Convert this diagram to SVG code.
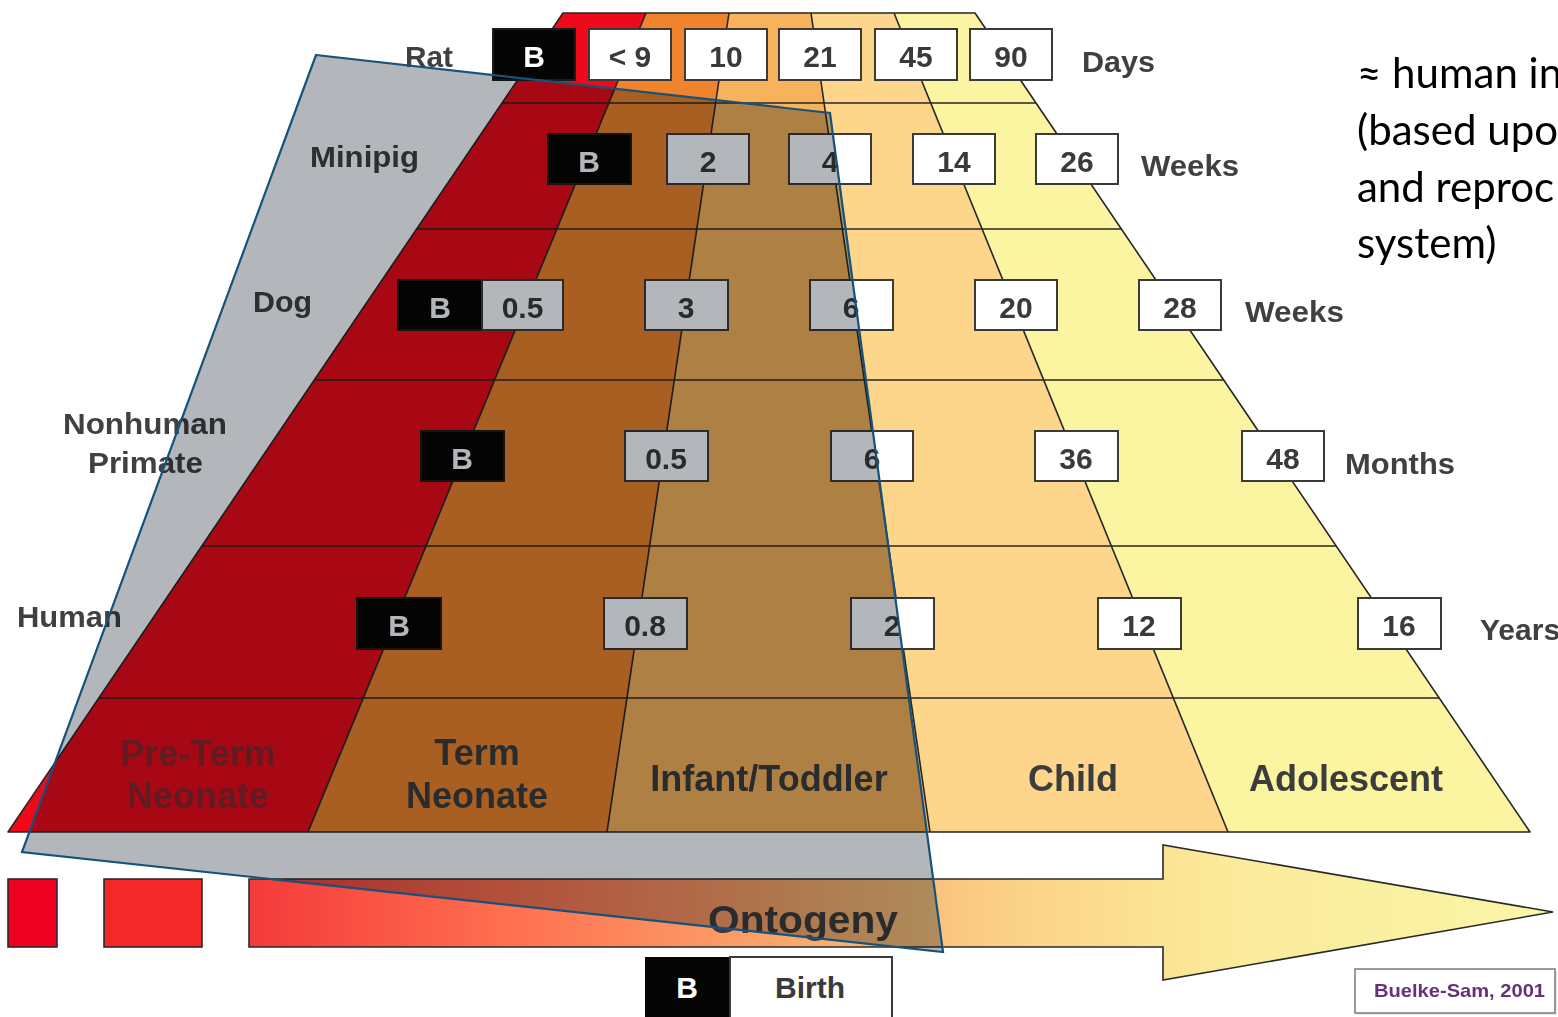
<svg xmlns="http://www.w3.org/2000/svg" width="1558" height="1017" viewBox="0 0 1558 1017">
  <defs>
    <style>
      .grid { fill: none; stroke: #262626; stroke-width: 1.6; stroke-linejoin: round; }
      .box { fill: #ffffff; stroke: #3a3a3a; stroke-width: 2; }
      .bbox { fill: #050505; stroke: #1c1c1c; stroke-width: 2; }
      .num { font-family: "Liberation Sans", Arial, sans-serif; font-weight: bold; font-size: 30px; fill: #3a3a3a; text-anchor: middle; }
      .bt { font-family: "Liberation Sans", Arial, sans-serif; font-weight: bold; font-size: 30px; fill: #ffffff; text-anchor: middle; }
      .lbl { font-family: "Liberation Sans", Arial, sans-serif; font-weight: bold; font-size: 30px; fill: #404040; }
      .stage { font-family: "Liberation Sans", Arial, sans-serif; font-weight: bold; font-size: 36px; fill: #3c3c3c; text-anchor: middle; }
      .faint { opacity: 0.55; }
      .note { font-family: "Lato", "Open Sans", sans-serif; font-size: 42px; fill: #000000; }
      .outline { fill: none; stroke: #2a2a2a; stroke-width: 1.6; }
    </style>
    <linearGradient id="ontoGrad" gradientUnits="userSpaceOnUse" x1="249" y1="0" x2="1553" y2="0">
      <stop offset="0" stop-color="#F43A3A"/>
      <stop offset="0.2" stop-color="#FF7050"/>
      <stop offset="0.45" stop-color="#F9B070"/>
      <stop offset="0.6" stop-color="#FBD48A"/>
      <stop offset="0.75" stop-color="#FBEA9A"/>
      <stop offset="1" stop-color="#FAF6A8"/>
    </linearGradient>
  </defs>

  <rect x="0" y="0" width="1558" height="1017" fill="#ffffff"/>

  <!-- Age-band pyramid: five columns -->
  <g id="pyramid">
    <polygon points="563,13 646,13 308,832 8,832" fill="#EE0A1A"/>
    <polygon points="646,13 729,13 607,832 308,832" fill="#F0842C"/>
    <polygon points="729,13 811,13 930,832 607,832" fill="#F9B25C"/>
    <polygon points="811,13 894,13 1228,832 930,832" fill="#FDD68C"/>
    <polygon points="894,13 975,13 1530,832 1228,832" fill="#FBF4A0"/>

    <!-- row separators -->
    <g class="grid">
      <line x1="502.0" y1="103" x2="1036.0" y2="103"/>
      <line x1="416.6" y1="229" x2="1121.4" y2="229"/>
      <line x1="314.3" y1="380" x2="1223.7" y2="380"/>
      <line x1="201.8" y1="546" x2="1336.2" y2="546"/>
      <line x1="98.8" y1="698" x2="1439.2" y2="698"/>
      <!-- column separators -->
      <line x1="646" y1="13" x2="308" y2="832"/>
      <line x1="729" y1="13" x2="607" y2="832"/>
      <line x1="811" y1="13" x2="930" y2="832"/>
      <line x1="894" y1="13" x2="1228" y2="832"/>
      <polygon points="563,13 975,13 1530,832 8,832"/>
    </g>

    <!-- stage names -->
    <text class="stage faint" x="198" y="766">Pre-Term</text>
    <text class="stage faint" x="198" y="808">Neonate</text>
    <text class="stage" x="477" y="765">Term</text>
    <text class="stage" x="477" y="808">Neonate</text>
    <text class="stage" x="769" y="791">Infant/Toddler</text>
    <text class="stage" x="1073" y="791">Child</text>
    <text class="stage" x="1346" y="791">Adolescent</text>
  </g>

  <!-- Species row labels and units -->
  <g id="species-labels">
    <text class="lbl" x="405" y="67" textLength="48" lengthAdjust="spacingAndGlyphs">Rat</text>
    <text class="lbl" x="310" y="167" textLength="109" lengthAdjust="spacingAndGlyphs">Minipig</text>
    <text class="lbl" x="253" y="312" textLength="59" lengthAdjust="spacingAndGlyphs">Dog</text>
    <text class="lbl" x="63" y="434" textLength="164" lengthAdjust="spacingAndGlyphs">Nonhuman</text>
    <text class="lbl" x="88" y="473" textLength="115" lengthAdjust="spacingAndGlyphs">Primate</text>
    <text class="lbl" x="17" y="627" textLength="105" lengthAdjust="spacingAndGlyphs">Human</text>
  </g>
  <g id="unit-labels">
    <text class="lbl" x="1082" y="72" textLength="73" lengthAdjust="spacingAndGlyphs">Days</text>
    <text class="lbl" x="1141" y="176" textLength="98" lengthAdjust="spacingAndGlyphs">Weeks</text>
    <text class="lbl" x="1245" y="322" textLength="99" lengthAdjust="spacingAndGlyphs">Weeks</text>
    <text class="lbl" x="1345" y="474" textLength="110" lengthAdjust="spacingAndGlyphs">Months</text>
    <text class="lbl" x="1480" y="640">Years</text>
  </g>

  <!-- Rat row -->
  <g id="row-rat">
    <rect class="bbox" x="493" y="29" width="82" height="51"/><text class="bt" x="534" y="67">B</text>
    <rect class="box" x="589" y="29" width="82" height="51"/><text class="num" x="630" y="67">&lt; 9</text>
    <rect class="box" x="685" y="29" width="82" height="51"/><text class="num" x="726" y="67">10</text>
    <rect class="box" x="779" y="29" width="82" height="51"/><text class="num" x="820" y="67">21</text>
    <rect class="box" x="875" y="29" width="82" height="51"/><text class="num" x="916" y="67">45</text>
    <rect class="box" x="970" y="29" width="82" height="51"/><text class="num" x="1011" y="67">90</text>
  </g>

  <!-- Minipig row -->
  <g id="row-minipig">
    <rect class="bbox" x="548" y="134" width="83" height="50"/><text class="bt" x="589" y="172">B</text>
    <rect class="box" x="667" y="134" width="82" height="50"/><text class="num" x="708" y="172">2</text>
    <rect class="box" x="789" y="134" width="82" height="50"/><text class="num" x="830" y="172">4</text>
    <rect class="box" x="913" y="134" width="82" height="50"/><text class="num" x="954" y="172">14</text>
    <rect class="box" x="1036" y="134" width="82" height="50"/><text class="num" x="1077" y="172">26</text>
  </g>

  <!-- Dog row -->
  <g id="row-dog">
    <rect class="bbox" x="398" y="280" width="84" height="50"/><text class="bt" x="440" y="318">B</text>
    <rect class="box" x="482" y="280" width="81" height="50"/><text class="num" x="522.5" y="318">0.5</text>
    <rect class="box" x="645" y="280" width="83" height="50"/><text class="num" x="686" y="318">3</text>
    <rect class="box" x="810" y="280" width="83" height="50"/><text class="num" x="851" y="318">6</text>
    <rect class="box" x="975" y="280" width="82" height="50"/><text class="num" x="1016" y="318">20</text>
    <rect class="box" x="1139" y="280" width="82" height="50"/><text class="num" x="1180" y="318">28</text>
  </g>

  <!-- Nonhuman primate row -->
  <g id="row-nhp">
    <rect class="bbox" x="421" y="431" width="83" height="50"/><text class="bt" x="462" y="469">B</text>
    <rect class="box" x="625" y="431" width="83" height="50"/><text class="num" x="666" y="469">0.5</text>
    <rect class="box" x="831" y="431" width="82" height="50"/><text class="num" x="872" y="469">6</text>
    <rect class="box" x="1035" y="431" width="83" height="50"/><text class="num" x="1076" y="469">36</text>
    <rect class="box" x="1242" y="431" width="82" height="50"/><text class="num" x="1283" y="469">48</text>
  </g>

  <!-- Human row -->
  <g id="row-human">
    <rect class="bbox" x="357" y="598" width="84" height="51"/><text class="bt" x="399" y="636">B</text>
    <rect class="box" x="604" y="598" width="83" height="51"/><text class="num" x="645" y="636">0.8</text>
    <rect class="box" x="851" y="598" width="83" height="51"/><text class="num" x="892" y="636">2</text>
    <rect class="box" x="1098" y="598" width="83" height="51"/><text class="num" x="1139" y="636">12</text>
    <rect class="box" x="1358" y="598" width="83" height="51"/><text class="num" x="1399" y="636">16</text>
  </g>

  <!-- Ontogeny arrow -->
  <g id="ontogeny">
    <rect class="outline" x="8" y="879" width="49" height="68" style="fill:#EE0020"/>
    <rect class="outline" x="104" y="879" width="98" height="68" style="fill:#F42828"/>
    <path class="outline" d="M249,879 H1163 V845 L1553,912 L1163,980 V947 H249 Z" style="fill:url(#ontoGrad)"/>
    <text class="stage" x="803" y="933" style="font-size:38px" textLength="190" lengthAdjust="spacingAndGlyphs">Ontogeny</text>
  </g>

  <!-- Highlighted region: multiply-tinted quadrilateral -->
  <g id="highlight">
    <polygon points="316,55 830,113 943,952 22,852" fill="#B3B7BB" style="mix-blend-mode:multiply"/>
    <polygon points="316,55 830,113 943,952 22,852" fill="none" stroke="#17527A" stroke-width="2.2" stroke-linejoin="miter"/>
  </g>

  <!-- Legend -->
  <g id="legend-birth">
    <rect x="645" y="957" width="85" height="64" fill="#050505"/>
    <rect x="730" y="957" width="162" height="64" fill="#ffffff" stroke="#3a3a3a" stroke-width="2"/>
    <text class="bt" x="687" y="998">B</text>
    <text class="num" x="810" y="998">Birth</text>
  </g>

  <!-- Source citation -->
  <g id="citation">
    <rect x="1357" y="971" width="200" height="44" fill="#d8d8d8" opacity="0.6"/>
    <rect x="1355" y="969" width="200" height="44" fill="#ffffff" stroke="#7a7a7a" stroke-width="1.5"/>
    <text x="1374" y="997" textLength="171" lengthAdjust="spacingAndGlyphs" style="font-family:'Liberation Sans', Arial, sans-serif; font-weight:bold; font-size:19px; fill:#66307A">Buelke-Sam, 2001</text>
  </g>

  <!-- Side note, running past the right edge -->
  <g id="note">
    <text class="note" x="1357" y="88">≈ human in</text>
    <text class="note" x="1357" y="145">(based upo</text>
    <text class="note" x="1357" y="202">and reproc</text>
    <text class="note" x="1357" y="258">system)</text>
  </g>
</svg>
